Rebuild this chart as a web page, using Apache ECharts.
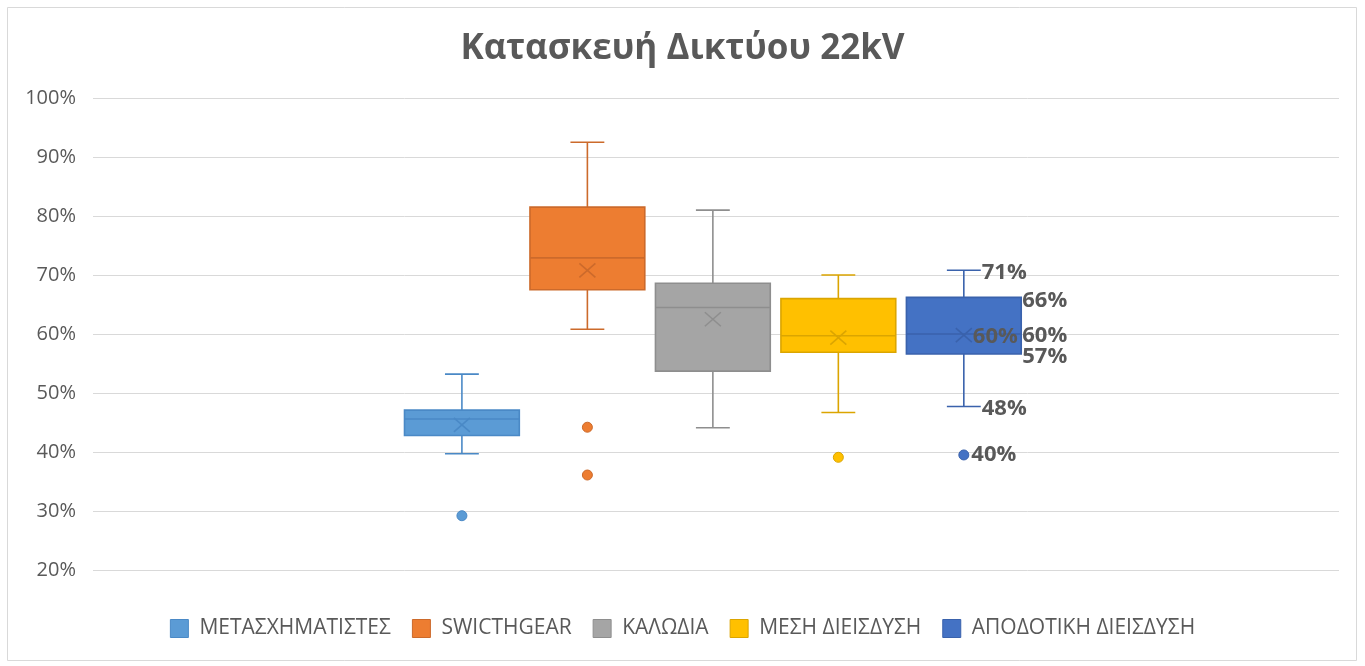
<!DOCTYPE html>
<html>
<head>
<meta charset="utf-8">
<title>Κατασκευή Δικτύου 22kV</title>
<script src="https://cdn.jsdelivr.net/npm/echarts@6/dist/echarts.min.js"></script>
<style>
  html, body { margin: 0; padding: 0; background: #ffffff; }
  #chart { width: 1365px; height: 666px; }
</style>
</head>
<body>
<div id="chart"></div>
<script>
// Series names (legend order)
const seriesNames = ['ΜΕΤΑΣΧΗΜΑΤΙΣΤΕΣ', 'SWICTHGEAR', 'ΚΑΛΩΔΙΑ', 'ΜΕΣΗ ΔΙΕΙΣΔΥΣΗ', 'ΑΠΟΔΟΤΙΚΗ ΔΙΕΙΣΔΥΣΗ'];

// Five-number summaries + mean: [min, Q1, median, Q3, max, mean]
const transformers = [0.397, 0.428, 0.456, 0.471, 0.532, 0.446];
const switchgear   = [0.608, 0.675, 0.729, 0.815, 0.925, 0.708];
const cables       = [0.441, 0.537, 0.645, 0.686, 0.810, 0.625];
const midPenetr    = [0.467, 0.569, 0.597, 0.660, 0.700, 0.594];
const effPenetr    = [0.477, 0.566, 0.600, 0.662, 0.708, 0.598];

// Outlier points per series
const transformersOut = [0.292];
const switchgearOut   = [0.442, 0.361];
const cablesOut       = [];
const midPenetrOut    = [0.391];
const effPenetrOut    = [0.395];

// Y axis ticks
const yTicks = [0.2, 0.3, 0.4, 0.5, 0.6, 0.7, 0.8, 0.9, 1.0];

const summaries = [transformers, switchgear, cables, midPenetr, effPenetr];
const outliers = [transformersOut, switchgearOut, cablesOut, midPenetrOut, effPenetrOut];

// Fill / outline colours
const fills   = ['#5B9BD5', '#ED7D31', '#A5A5A5', '#FFC000', '#4472C4'];
const strokes = ['#4A89C6', '#CC6A2B', '#8E8E8E', '#DBA500', '#3A62AC'];

// Only the last series carries data labels
const labelled = [false, false, false, false, true];

const BOX_W = 0.915;   // box width in x-axis units
const CAP_W = 0.27;    // whisker cap width in x-axis units
const labelFont = 'bold 22px "Open Sans"';
const textColor = '#595959';

const pct = v => Math.round(v * 100) + '%';

function makeRender(idx) {
  return function (params, api) {
    const x = api.value(0);
    const lo = api.value(1), q1 = api.value(2), med = api.value(3),
          q3 = api.value(4), hi = api.value(5), mean = api.value(6);
    const pLo = api.coord([x, lo]), pQ1 = api.coord([x, q1]), pMed = api.coord([x, med]),
          pQ3 = api.coord([x, q3]), pHi = api.coord([x, hi]), pMean = api.coord([x, mean]);
    const cx = pMed[0];
    const half = api.size([BOX_W, 0])[0] / 2;
    const capHalf = api.size([CAP_W, 0])[0] / 2;
    const ln = { stroke: strokes[idx], lineWidth: 1.6 };
    const children = [
      { type: 'line', shape: { x1: cx, y1: pHi[1], x2: cx, y2: pQ3[1] }, style: ln },
      { type: 'line', shape: { x1: cx, y1: pQ1[1], x2: cx, y2: pLo[1] }, style: ln },
      { type: 'line', shape: { x1: cx - capHalf, y1: pHi[1], x2: cx + capHalf, y2: pHi[1] }, style: ln },
      { type: 'line', shape: { x1: cx - capHalf, y1: pLo[1], x2: cx + capHalf, y2: pLo[1] }, style: ln },
      { type: 'rect', shape: { x: cx - half, y: pQ3[1], width: half * 2, height: pQ1[1] - pQ3[1] },
        style: { fill: fills[idx], stroke: strokes[idx], lineWidth: 1.6 } },
      { type: 'line', shape: { x1: cx - half, y1: pMed[1], x2: cx + half, y2: pMed[1] }, style: ln },
      { type: 'line', shape: { x1: cx - 8, y1: pMean[1] - 7, x2: cx + 8, y2: pMean[1] + 7 }, style: ln },
      { type: 'line', shape: { x1: cx - 8, y1: pMean[1] + 7, x2: cx + 8, y2: pMean[1] - 7 }, style: ln }
    ];
    if (labelled[idx]) {
      const txt = (t, tx, ty) => ({
        type: 'text', z2: 10,
        style: { text: t, x: tx, y: ty, fill: textColor, font: labelFont, align: 'left', verticalAlign: 'middle' }
      });
      children.push(
        txt(pct(hi), cx + capHalf + 1, pHi[1] + 2),
        txt(pct(q3), cx + half + 1, pQ3[1] + 3),
        txt(pct(mean), cx + 9, pMean[1] + 2),
        txt(pct(med), cx + half + 1, pMed[1] + 2),
        txt(pct(q1), cx + half + 1, pQ1[1] + 3),
        txt(pct(lo), cx + capHalf + 1, pLo[1] + 2)
      );
    }
    return { type: 'group', children: children };
  };
}

const series = [];
seriesNames.forEach((name, i) => {
  series.push({
    name: name,
    type: 'custom',
    renderItem: makeRender(i),
    itemStyle: { color: fills[i] },
    encode: { x: 0, y: [1, 2, 3, 4, 5, 6] },
    data: [[i].concat(summaries[i])],
    z: 3
  });
  series.push({
    name: name,
    type: 'scatter',
    symbol: 'circle',
    symbolSize: 10,
    itemStyle: { color: fills[i], borderColor: strokes[i], borderWidth: 1, opacity: 1 },
    label: {
      show: labelled[i], position: 'right', distance: 2,
      formatter: p => pct(p.value[1]),
      color: textColor, fontFamily: 'Open Sans', fontWeight: 'bold', fontSize: 22
    },
    data: outliers[i].map(v => [i, v]),
    z: 4
  });
});

const chart = echarts.init(document.getElementById('chart'), null, { renderer: 'canvas' });
chart.setOption({
  animation: false,
  backgroundColor: '#ffffff',
  title: {
    text: 'Κατασκευή Δικτύου 22kV',
    left: 'center',
    top: 27,
    textStyle: { color: textColor, fontFamily: 'Open Sans', fontWeight: 'bold', fontSize: 35 }
  },
  legend: {
    bottom: 22,
    left: 'center',
    itemWidth: 18,
    itemHeight: 18,
    itemGap: 21,
    icon: 'rect',
    textStyle: { color: textColor, fontFamily: 'Open Sans', fontSize: 21, padding: [0, 0, 0, 6] },
    data: seriesNames.map((n, i) => ({
      name: n,
      itemStyle: { color: fills[i], borderColor: strokes[i], borderWidth: 1 }
    }))
  },
  grid: { left: 93, right: 26, top: 98, bottom: 96, containLabel: false },
  xAxis: {
    type: 'value',
    min: -2.94,
    max: 6.99,
    show: false,
    splitLine: { show: false }
  },
  yAxis: {
    type: 'value',
    min: yTicks[0],
    max: yTicks[yTicks.length - 1],
    interval: 0.1,
    axisLine: { show: false },
    axisTick: { show: false },
    splitLine: { lineStyle: { color: '#D9D9D9', width: 1 } },
    axisLabel: {
      formatter: v => pct(v),
      color: textColor,
      fontFamily: 'Open Sans',
      fontSize: 20,
      margin: 17
    }
  },
  graphic: [{
    type: 'rect',
    shape: { x: 7.5, y: 7.5, width: 1349, height: 653 },
    style: { fill: 'none', stroke: '#D9D9D9', lineWidth: 1 },
    silent: true,
    z: -1
  }],
  series: series
});
</script>
</body>
</html>
